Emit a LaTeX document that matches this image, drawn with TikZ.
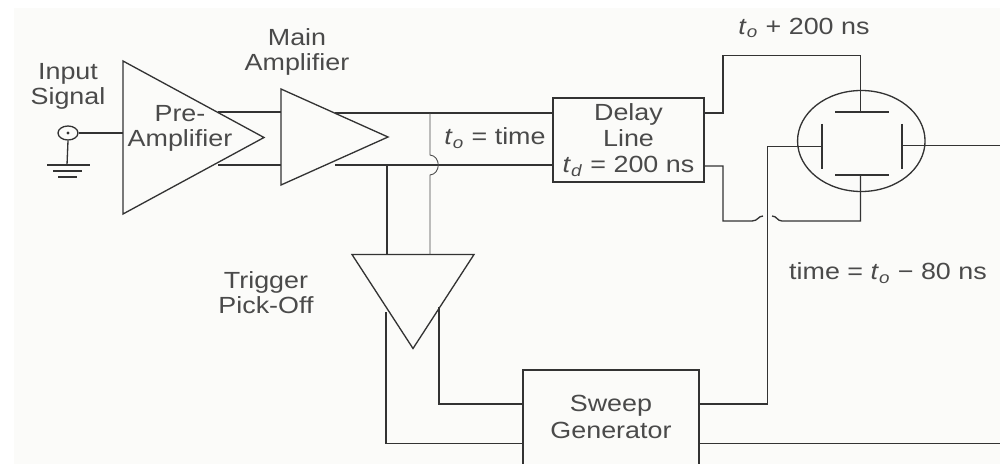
\documentclass[tikz,border=0pt]{standalone}
\usepackage{fontspec}
\setmainfont[FakeStretch=1.15]{Liberation Sans}
\usetikzlibrary{shapes.geometric}
\definecolor{ink}{HTML}{333333}
\definecolor{muted}{HTML}{4A4A4A}
\definecolor{paper}{HTML}{FBFBF9}
\newcommand{\tsub}[1]{\textit{t}\textsubscript{\textit{#1}}}
\tikzset{wire/.style={draw=ink,line width=.75pt},
thinwire/.style={draw=muted,line width=.5pt},
amp/.style={isosceles triangle,isosceles triangle stretches,shape border rotate=0,anchor=lower side,inner sep=0pt,outer sep=0pt,wire},
box/.style={rectangle,inner sep=0pt,outer sep=0pt,align=center,text=muted,font=\fontsize{13.3}{15}\selectfont},
lab/.style={text=muted,align=center,inner sep=0pt,font=\fontsize{13.3}{14.2}\selectfont}}

\begin{document}
\begin{tikzpicture}[x=.2mm,y=-.2mm]
\useasboundingbox (0,0) rectangle (1000,464);
\fill[paper] (14,8) rectangle (1000,464);
% amplifiers
\node[amp,minimum width=30.6mm,minimum height=28.2mm] (pre) at (123,137.5) {};
\node[amp,minimum width=19.2mm,minimum height=21.4mm] (main) at (281,137) {};
\node[amp,shape border rotate=-90,minimum width=24.4mm,minimum height=18.8mm] (trig) at (413,254.5) {};
\node[lab] (prelab) at (180,128) {Pre-\\Amplifier};
\node[lab] (mainlab) at (297,52) {Main\\Amplifier};
\node[lab] (inlab) at (68,86) {Input\\Signal};
\node[lab] (triglab) at (266,293) {Trigger\\Pick-Off};
% boxes
\node[box,wire,minimum width=30.2mm,minimum height=16.8mm] (delay) at (628.5,140) {Delay\\Line\\\tsub{d} = 200 ns};
\node[box,minimum width=35.2mm,minimum height=18.8mm] (sweep) at (611,417) {Sweep\\Generator};
\draw[wire] (sweep.south west) -- (sweep.north west) -- (sweep.north east) -- (sweep.south east);
\node[ellipse,wire,inner sep=0pt,minimum width=25.5mm,minimum height=20.2mm] (crt) at (861.3,141) {};
\node[lab] (tolab) at (495,138) {\tsub{o} = time};
\node[lab] (pluslab) at (804,28) {\tsub{o} + 200 ns};
\node[lab] (minuslab) at (888,273) {time = \tsub{o} − 80 ns};
% input connector and ground
\node[ellipse,wire,inner sep=0pt,minimum width=4mm,minimum height=2.8mm] (jack) at (68,133) {};
\fill[ink] (jack) circle (1.6);
\coordinate (gnd) at (67,165);
\draw[wire] (jack) -- (jack -| pre.lower side);
\draw[wire] (jack.south) -- (gnd);
\draw[wire] (47,165) -- (90,165);
\draw[wire] (53,171) -- (82,171);
\draw[wire,line width=1.1pt] (58,177) -- (77,177);
% deflection plates
\coordinate (ptop) at (860.5,112);
\coordinate (pbot) at (860.5,175);
\coordinate (pleft) at (822,146.5);
\coordinate (pright) at (902,145.5);
\draw[wire] (835,112) -- (889,112);
\draw[wire] (835,175) -- (889,175);
\draw[wire] (822,124) -- (822,169);
\draw[wire] (902,124) -- (902,169);
% amplifier chain
\coordinate (preup) at (218,112);
\coordinate (predn) at (218,165);
\coordinate (mainup) at (335,113);
\coordinate (maindn) at (335,165);
\draw[wire,line width=1pt] (preup) -- (preup -| main.lower side);
\draw[wire,line width=1pt] (predn) -- (predn -| main.lower side);
\draw[wire] (mainup) -- (mainup -| delay.west);
\draw[wire] (maindn) -- (maindn -| delay.west);
% pick-off lines
\coordinate (tapa) at (387,165);
\coordinate (tapb) at (430,113);
\draw[wire] (tapa) -- (387,254.5);
\draw[thinwire] (tapb) -- (430,155) .. controls (441,156) and (441,174) .. (430,175) -- (430,254.5);
\coordinate (trigl) at (386,312);
\coordinate (trigr) at (439,307);
\draw[wire] (trigr) -- (439,404) -- (439,404 -| sweep.west);
\draw[wire] (trigl) -- (386,443.7) -- (386,443.7 -| sweep.west);
% delay line to plates
\coordinate (dlup) at (723,113);
\coordinate (dldn) at (723,166);
\draw[wire] (dlup -| delay.east) -- (dlup) -- (723,55.5) -- (860.5,55.5) -- (ptop);
\draw[wire] (dldn -| delay.east) -- (dldn) -- (723,221) -- (752,221) .. controls (758,221) and (758,216) .. (763,216);
\draw[wire] (772,216) .. controls (777,216) and (777,221) .. (782,221) -- (860.5,221) -- (pbot);
% sweep outputs
\coordinate (outx) at (1000,145.5);
\coordinate (outy) at (1000,443.7);
\draw[wire] (sweep.east |- 0,404) -- (767.5,404) -- (767.5,146.5) -- (pleft);
\draw[wire] (pright) -- (outx);
\draw[wire] (sweep.east |- outy) -- (outy);
\end{tikzpicture}
\end{document}
